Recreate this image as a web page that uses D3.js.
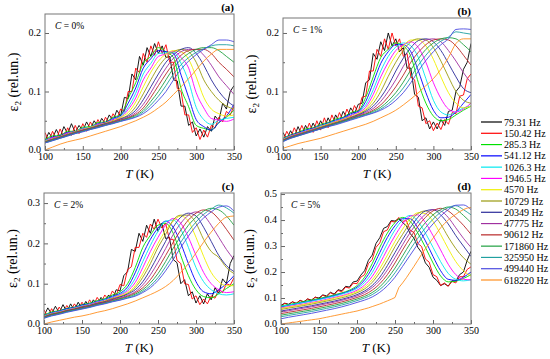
<!DOCTYPE html>
<html>
<head>
<meta charset="utf-8">
<script src="https://cdn.jsdelivr.net/npm/d3@7"></script>
<style>
  body { margin: 0; background: #fff; }
  svg, svg text, svg tspan { font-family: "Liberation Serif", "DejaVu Serif", serif !important; }
</style>
</head>
<body>
<svg id="chart" width="550" height="359" font-family="Liberation Serif, DejaVu Serif, serif"></svg>
<script>
// temperature grids (K): noisy curves are sampled every 5 K, smooth ones every 10 K
const tempsFine = [100,105,110,115,120,125,130,135,140,145,150,155,160,165,170,175,180,185,190,195,
  200,205,210,215,220,225,230,235,240,245,250,255,260,265,270,275,280,285,290,295,
  300,305,310,315,320,325,330,335,340,345,350];
const tempsCoarse = [100,110,120,130,140,150,160,170,180,190,200,210,220,230,240,250,260,270,280,290,300,310,320,330,340,350];

const freqLabels = ["79.31 Hz","150.42 Hz","285.3 Hz","541.12 Hz","1026.3 Hz","1946.5 Hz","4570 Hz",
  "10729 Hz","20349 Hz","47775 Hz","90612 Hz","171860 Hz","325950 Hz","499440 Hz","618220 Hz"];
const colors = ["#000000","#ff0000","#00e000","#0000ff","#00e8f0","#ff00ff","#f0f000",
  "#9a9a10","#2a2a9a","#a030a0","#b82828","#20a040","#20a0a0","#4a4ae0","#ff9020"];

const xTicks = [100,150,200,250,300,350];
const xMinor = [125,175,225,275,325];
const yTicksA = [0.0,0.1,0.2];
const yMinorA = [0.05,0.15];
const yTicksC = [0.0,0.1,0.2,0.3];
const yMinorC = [0.05,0.15,0.25];
const yTicksD = [0.0,0.1,0.2,0.3,0.4,0.5];
const yMinorD = [0.05,0.15,0.25,0.35,0.45];

// eps2 (rel.un.), C = 0%
const eps0pct = [
  [.015,.03,.02,.035,.022,.04,.028,.045,.03,.042,.033,.048,.036,.05,.04,.054,.045,.06,.05,.068,.058,.09,.088,.13,.12,.16,.145,.175,.16,.182,.165,.178,.158,.16,.12,.118,.075,.075,.042,.048,.024,.036,.022,.04,.032,.058,.05,.08,.07,.1,.11],
  [.03,.015,.032,.018,.036,.022,.038,.025,.042,.028,.045,.032,.048,.036,.052,.04,.056,.046,.062,.052,.07,.066,.1,.1,.14,.132,.165,.15,.178,.162,.185,.165,.18,.15,.15,.105,.1,.06,.06,.03,.038,.018,.034,.022,.042,.038,.056,.048,.066,.06,.075],
  [.018,.024,.025,.032,.032,.039,.04,.047,.048,.056,.06,.088,.115,.148,.16,.175,.168,.158,.105,.074,.042,.037,.034,.047,.056,.068],
  [.016,.022,.024,.03,.031,.037,.039,.045,.047,.054,.059,.08,.106,.14,.156,.17,.168,.165,.128,.09,.052,.04,.034,.047,.058,.078],
  [.016,.021,.023,.029,.031,.037,.039,.044,.046,.053,.057,.073,.097,.13,.148,.165,.166,.167,.148,.117,.073,.052,.044,.051,.054,.056],
  [.015,.021,.023,.029,.031,.036,.038,.044,.046,.052,.056,.069,.089,.12,.14,.16,.164,.169,.158,.14,.098,.072,.054,.051,.049,.053],
  [.015,.019,.023,.027,.031,.035,.039,.042,.046,.05,.056,.064,.082,.108,.133,.152,.164,.17,.168,.155,.125,.09,.07,.062,.058,.06],
  [.014,.019,.023,.027,.031,.034,.038,.042,.045,.049,.054,.06,.074,.096,.12,.142,.158,.168,.172,.168,.15,.12,.1,.085,.075,.07],
  [.014,.018,.022,.026,.03,.034,.037,.041,.045,.048,.053,.058,.068,.086,.108,.13,.15,.163,.172,.175,.165,.145,.12,.1,.085,.075],
  [.013,.018,.022,.026,.03,.033,.037,.04,.044,.048,.052,.056,.064,.078,.098,.12,.14,.157,.168,.172,.172,.162,.145,.125,.11,.095],
  [.013,.017,.021,.025,.029,.033,.036,.04,.043,.047,.051,.055,.061,.072,.09,.11,.13,.148,.162,.17,.172,.172,.165,.15,.138,.125],
  [.013,.017,.021,.025,.029,.032,.036,.039,.043,.046,.05,.054,.059,.068,.083,.1,.12,.14,.155,.165,.172,.175,.175,.17,.16,.15],
  [.012,.016,.02,.024,.028,.032,.035,.039,.042,.046,.049,.053,.057,.065,.077,.092,.11,.13,.146,.158,.167,.173,.178,.18,.18,.178],
  [.012,.016,.02,.024,.028,.031,.035,.038,.042,.045,.049,.052,.056,.062,.072,.085,.1,.12,.138,.152,.163,.172,.18,.188,.188,.185],
  [0,.005,.01,.014,.017,.02,.024,.028,.032,.036,.04,.045,.05,.056,.063,.072,.082,.095,.108,.122,.137,.152,.164,.172,.172,.172]
];

// eps2 (rel.un.), C = 1%
const eps1pct = [
  [.03,.018,.033,.022,.04,.026,.042,.03,.046,.034,.05,.038,.055,.042,.06,.048,.066,.055,.072,.062,.078,.08,.115,.12,.165,.155,.185,.17,.2,.178,.19,.168,.175,.14,.14,.095,.09,.05,.055,.036,.048,.036,.052,.042,.066,.068,.1,.108,.138,.15,.182],
  [.015,.032,.02,.038,.025,.042,.028,.046,.03,.05,.034,.055,.038,.06,.045,.064,.05,.07,.056,.076,.064,.09,.092,.135,.135,.172,.16,.19,.172,.2,.178,.19,.16,.165,.125,.12,.075,.072,.045,.05,.033,.046,.035,.052,.044,.064,.062,.092,.094,.122,.13],
  [.02,.026,.03,.036,.038,.044,.047,.053,.056,.064,.067,.09,.125,.158,.172,.183,.178,.16,.115,.08,.058,.05,.052,.06,.068,.075],
  [.019,.025,.029,.034,.037,.042,.046,.051,.055,.062,.066,.083,.115,.148,.168,.18,.18,.168,.135,.098,.068,.055,.056,.065,.08,.095],
  [.019,.024,.028,.033,.036,.041,.045,.05,.054,.06,.065,.077,.103,.135,.16,.176,.183,.178,.158,.122,.085,.065,.06,.065,.072,.075],
  [.018,.024,.028,.032,.036,.04,.044,.049,.053,.059,.064,.073,.095,.125,.15,.17,.18,.185,.175,.15,.115,.088,.07,.065,.07,.08],
  [.018,.023,.027,.031,.035,.04,.044,.048,.052,.057,.062,.07,.087,.113,.14,.162,.178,.188,.188,.178,.155,.125,.098,.08,.072,.075],
  [.017,.023,.027,.031,.035,.039,.043,.047,.051,.056,.061,.068,.08,.1,.126,.15,.17,.185,.19,.188,.175,.152,.125,.1,.085,.08],
  [.017,.022,.026,.03,.034,.038,.042,.046,.05,.055,.06,.066,.075,.09,.11,.135,.157,.175,.187,.19,.185,.17,.148,.125,.105,.098],
  [.016,.022,.026,.03,.034,.038,.042,.046,.05,.054,.059,.064,.071,.083,.1,.12,.143,.163,.178,.188,.19,.185,.17,.152,.132,.115],
  [.016,.021,.025,.029,.033,.037,.041,.045,.049,.053,.058,.062,.068,.077,.091,.108,.128,.15,.167,.18,.188,.19,.188,.178,.162,.145],
  [.015,.021,.025,.029,.033,.037,.041,.045,.049,.053,.057,.061,.066,.073,.084,.098,.116,.137,.156,.172,.183,.19,.192,.19,.18,.168],
  [.015,.02,.024,.028,.032,.036,.04,.044,.048,.052,.056,.06,.064,.07,.079,.091,.106,.125,.145,.162,.176,.186,.193,.202,.2,.198],
  [.014,.02,.024,.028,.032,.036,.04,.043,.047,.051,.055,.059,.063,.068,.075,.085,.098,.115,.135,.153,.168,.18,.19,.206,.207,.206],
  [.003,.007,.011,.014,.017,.02,.024,.028,.032,.036,.04,.044,.049,.055,.061,.068,.077,.087,.098,.11,.122,.138,.158,.182,.19,.19]
];

// eps2 (rel.un.), C = 2%
const eps2pct = [
  [.02,.04,.025,.044,.028,.048,.03,.05,.034,.054,.038,.056,.042,.06,.048,.066,.054,.072,.06,.085,.082,.12,.13,.185,.18,.225,.205,.245,.225,.26,.23,.25,.212,.215,.16,.152,.1,.11,.07,.08,.052,.07,.05,.075,.06,.09,.076,.112,.1,.15,.17],
  [.035,.018,.038,.022,.042,.028,.046,.032,.05,.036,.054,.04,.06,.046,.066,.052,.072,.06,.082,.07,.098,.095,.135,.142,.19,.19,.225,.215,.248,.235,.26,.238,.25,.21,.21,.158,.15,.1,.098,.062,.07,.048,.062,.05,.07,.064,.086,.078,.1,.096,.115],
  [.022,.03,.033,.039,.042,.048,.052,.058,.063,.072,.08,.1,.14,.19,.22,.245,.25,.225,.17,.12,.085,.068,.065,.075,.088,.1],
  [.02,.028,.032,.038,.041,.047,.05,.056,.061,.069,.076,.092,.127,.172,.21,.238,.255,.24,.2,.15,.105,.08,.075,.085,.1,.12],
  [.02,.027,.031,.036,.04,.045,.049,.055,.06,.067,.074,.086,.113,.155,.195,.23,.255,.258,.235,.19,.14,.105,.085,.075,.072,.075],
  [.019,.026,.03,.035,.039,.044,.048,.054,.058,.065,.072,.082,.103,.14,.18,.215,.245,.262,.25,.215,.17,.128,.1,.085,.078,.08],
  [.018,.025,.029,.034,.038,.043,.047,.052,.057,.063,.07,.078,.095,.125,.162,.2,.232,.255,.268,.255,.215,.168,.128,.105,.095,.095],
  [.018,.025,.028,.034,.037,.043,.046,.052,.056,.063,.068,.076,.09,.116,.15,.19,.222,.258,.27,.27,.25,.21,.18,.165,.14,.125],
  [.017,.024,.028,.033,.037,.042,.046,.051,.055,.061,.067,.074,.085,.105,.135,.17,.205,.24,.265,.275,.268,.24,.205,.17,.145,.13],
  [.017,.023,.027,.032,.036,.041,.045,.05,.054,.06,.065,.071,.08,.097,.122,.153,.187,.222,.25,.27,.278,.27,.245,.215,.185,.16],
  [.016,.023,.027,.032,.036,.04,.044,.049,.053,.058,.063,.069,.077,.09,.11,.138,.17,.203,.233,.258,.275,.283,.278,.26,.235,.208],
  [.016,.022,.026,.031,.035,.039,.043,.048,.052,.057,.062,.067,.074,.085,.102,.125,.155,.188,.218,.245,.265,.28,.287,.283,.268,.245],
  [.015,.021,.025,.03,.034,.038,.042,.047,.051,.056,.06,.065,.071,.081,.095,.115,.142,.172,.203,.23,.253,.272,.285,.295,.288,.275],
  [.014,.02,.024,.029,.033,.037,.041,.046,.05,.055,.059,.064,.069,.078,.09,.108,.132,.16,.19,.218,.243,.263,.278,.29,.293,.28],
  [0,.005,.009,.013,.017,.02,.024,.029,.033,.038,.044,.05,.057,.065,.073,.082,.093,.108,.128,.15,.176,.203,.228,.25,.265,.268]
];

// eps2 (rel.un.), C = 5%
const eps5pct = [
  [.072,.08,.076,.085,.08,.09,.086,.096,.092,.103,.1,.112,.108,.122,.115,.132,.128,.145,.142,.162,.165,.188,.205,.245,.265,.31,.332,.368,.375,.398,.396,.405,.39,.378,.348,.33,.295,.275,.235,.218,.18,.168,.148,.155,.146,.166,.165,.19,.2,.245,.28],
  [.068,.08,.073,.086,.078,.092,.083,.097,.089,.104,.096,.111,.104,.12,.113,.129,.124,.142,.138,.157,.155,.18,.19,.232,.248,.295,.312,.355,.362,.395,.392,.41,.395,.398,.36,.352,.31,.298,.25,.238,.19,.182,.148,.158,.145,.164,.158,.182,.182,.21,.22],
  [.07,.075,.08,.086,.092,.098,.105,.112,.12,.13,.148,.18,.232,.295,.35,.39,.41,.395,.35,.295,.235,.185,.162,.165,.175,.19],
  [.066,.072,.077,.083,.089,.095,.102,.109,.117,.127,.142,.17,.215,.275,.333,.378,.405,.405,.37,.32,.26,.205,.172,.168,.18,.2],
  [.068,.073,.078,.083,.088,.094,.1,.107,.115,.124,.137,.16,.198,.253,.31,.362,.4,.418,.395,.35,.295,.24,.195,.172,.166,.17],
  [.062,.067,.072,.077,.083,.088,.095,.102,.109,.118,.13,.15,.183,.232,.288,.34,.385,.415,.42,.39,.34,.285,.23,.19,.172,.17],
  [.06,.065,.07,.075,.08,.086,.092,.099,.106,.114,.125,.142,.17,.213,.265,.318,.365,.405,.428,.425,.395,.345,.29,.24,.205,.185],
  [.056,.061,.066,.071,.076,.082,.088,.094,.101,.109,.12,.135,.16,.198,.245,.298,.345,.39,.425,.435,.42,.385,.335,.29,.255,.23],
  [.05,.055,.06,.065,.07,.076,.082,.088,.095,.103,.113,.127,.148,.18,.225,.275,.325,.37,.41,.435,.44,.42,.385,.34,.3,.26],
  [.046,.051,.056,.061,.066,.072,.078,.084,.091,.099,.108,.121,.14,.168,.208,.255,.305,.352,.392,.422,.44,.435,.41,.37,.33,.295],
  [.04,.045,.05,.055,.06,.066,.072,.078,.085,.093,.102,.113,.13,.155,.19,.235,.285,.332,.375,.41,.435,.445,.435,.41,.38,.345],
  [.034,.039,.044,.049,.054,.06,.066,.072,.079,.087,.096,.106,.121,.143,.175,.215,.262,.31,.353,.39,.42,.44,.45,.442,.418,.39],
  [.028,.033,.038,.043,.048,.054,.06,.066,.073,.081,.09,.1,.113,.133,.16,.197,.24,.287,.33,.37,.403,.43,.448,.455,.44,.42],
  [.02,.026,.031,.036,.041,.047,.053,.059,.066,.074,.083,.092,.104,.122,.147,.18,.222,.265,.308,.35,.385,.415,.44,.457,.458,.44],
  [0,.002,.004,.006,.008,.01,.012,.014,.016,.018,.02,.023,.026,.029,.032,.035,.038,.041,.044,.047,.05,.054,.058,.062,.067,.072,.077,.083,.089,.095,.102,.14,.158,.178,.2,.222,.245,.268,.29,.31,.33,.35,.37,.386,.4,.412,.422,.432,.44,.446,.448]
];

const panels = [
  { tag: "a", conc: "0%", data: eps0pct, yMax: 0.2325, yTicks: yTicksA, yMinor: yMinorA, box: [45, 14, 234, 150] },
  { tag: "b", conc: "1%", data: eps1pct, yMax: 0.2256, yTicks: yTicksA, yMinor: yMinorA, box: [283, 18, 471, 150] },
  { tag: "c", conc: "2%", data: eps2pct, yMax: 0.325, yTicks: yTicksC, yMinor: yMinorC, box: [44, 193, 234, 324] },
  { tag: "d", conc: "5%", data: eps5pct, yMax: 0.504, yTicks: yTicksD, yMinor: yMinorD, box: [281, 193, 471, 324] }
];

const FONT = "Liberation Serif, DejaVu Serif, serif";
const svg = d3.select("#chart");

function styleAxis(sel) {
  sel.attr("font-family", FONT);
  sel.select(".domain").remove();
  sel.selectAll(".tick line").attr("stroke", "#666");
  sel.selectAll(".tick text").attr("fill", "#000").attr("font-size", 10).attr("font-family", FONT);
}

function drawPanel(p) {
  const [x0, y0, x1, y1] = p.box;
  const x = d3.scaleLinear().domain([100, 350]).range([x0, x1]);
  const y = d3.scaleLinear().domain([0, p.yMax]).range([y1, y0]);
  const g = svg.append("g");

  g.append("clipPath").attr("id", "clip-" + p.tag)
    .append("rect").attr("x", x0).attr("y", y0).attr("width", x1 - x0).attr("height", y1 - y0);

  const lines = g.append("g").attr("clip-path", "url(#clip-" + p.tag + ")");
  p.data.forEach((vals, i) => {
    const fine = vals.length === tempsFine.length;
    const t = fine ? tempsFine : tempsCoarse;
    const line = d3.line()
      .x(d => x(d[0]))
      .y(d => y(d[1]))
      .curve(fine ? d3.curveLinear : d3.curveMonotoneX);
    lines.append("path")
      .datum(vals.map((v, j) => [t[j], v]))
      .attr("fill", "none")
      .attr("stroke", colors[i])
      .attr("stroke-width", 0.9)
      .attr("d", line);
  });

  // minor ticks (inside)
  g.append("g").attr("transform", `translate(0,${y1})`)
    .call(d3.axisBottom(x).tickValues(xMinor).tickSize(-2).tickFormat(""))
    .call(styleAxis);
  g.append("g").attr("transform", `translate(${x0},0)`)
    .call(d3.axisLeft(y).tickValues(p.yMinor).tickSize(-2).tickFormat(""))
    .call(styleAxis);

  // major ticks
  g.append("g").attr("transform", `translate(0,${y1})`)
    .call(d3.axisBottom(x).tickValues(xTicks).tickSize(-4).tickPadding(3).tickFormat(d3.format("d")))
    .call(styleAxis);
  g.append("g").attr("transform", `translate(${x0},0)`)
    .call(d3.axisLeft(y).tickValues(p.yTicks).tickSize(-4).tickPadding(4).tickFormat(d3.format(".1f")))
    .call(styleAxis)
    .call(a => a.selectAll(".tick text").attr("dy", "0.28em"));

  g.append("rect")
    .attr("x", x0).attr("y", y0).attr("width", x1 - x0).attr("height", y1 - y0)
    .attr("fill", "none").attr("stroke", "#777").attr("stroke-width", 1);

  // panel letter
  g.append("text").attr("x", x1).attr("y", y0 - 3).attr("text-anchor", "end")
    .attr("font-size", 11).attr("font-weight", "bold").text("(" + p.tag + ")");

  // concentration
  const ct = g.append("text").attr("x", x0 + 10).attr("y", y0 + 15).attr("font-size", 9.5);
  ct.append("tspan").attr("font-style", "italic").text("C");
  ct.append("tspan").text(" = " + p.conc);

  // axis titles
  const yt = g.append("text")
    .attr("transform", `translate(${x0 - 32},${(y0 + y1) / 2}) rotate(-90)`)
    .attr("text-anchor", "middle").attr("dy", "0.35em").attr("font-size", 14);
  yt.append("tspan").text("\u03b5");
  yt.append("tspan").attr("font-size", 9).attr("dy", "3").text("2");
  yt.append("tspan").attr("dy", "-3").text(" (rel.un.)");

  const xt = g.append("text").attr("x", (x0 + x1) / 2).attr("y", y1 + 28)
    .attr("text-anchor", "middle").attr("font-size", 13);
  xt.append("tspan").attr("font-style", "italic").text("T");
  xt.append("tspan").text(" (K)");
}

panels.forEach(drawPanel);

// legend
const legendY = d3.scaleLinear().domain([0, freqLabels.length - 1]).range([122, 280]);
const legend = svg.append("g");
freqLabels.forEach((lab, i) => {
  legend.append("line")
    .attr("x1", 481).attr("x2", 502)
    .attr("y1", legendY(i)).attr("y2", legendY(i))
    .attr("stroke", colors[i]).attr("stroke-width", 1.2);
  legend.append("text")
    .attr("x", 504).attr("y", legendY(i)).attr("dy", "0.35em")
    .attr("font-size", 10).text(lab);
});
</script>
</body>
</html>
